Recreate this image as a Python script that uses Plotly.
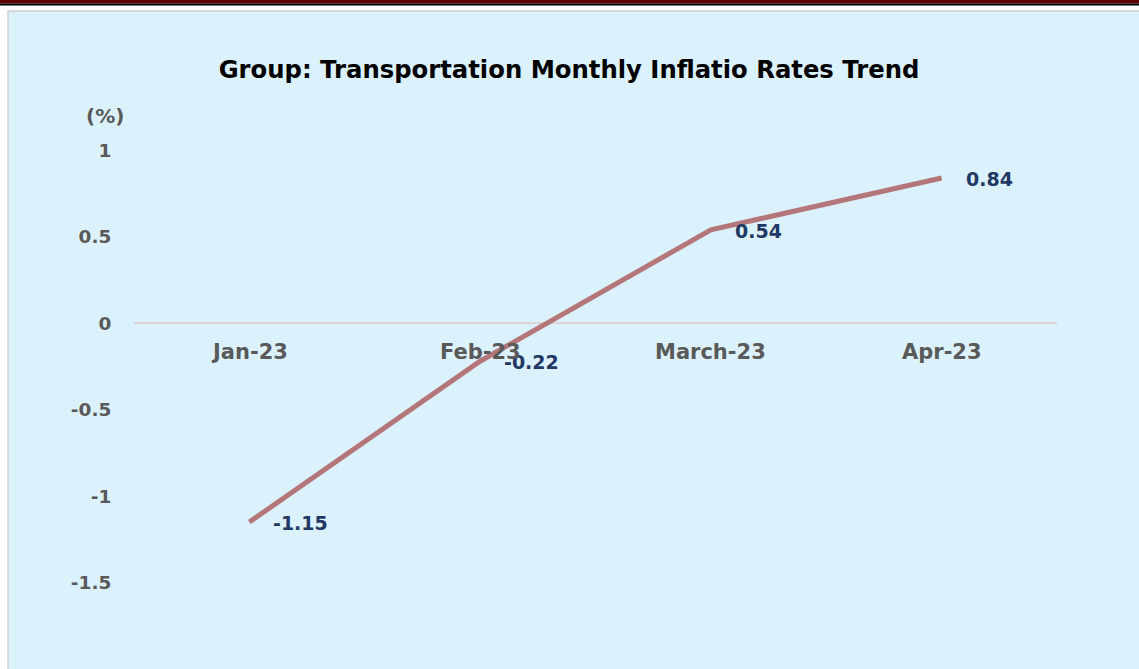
import plotly.graph_objects as go

months = ["Jan-23", "Feb-23", "March-23", "Apr-23"]
rates = [-1.15, -0.22, 0.54, 0.84]
rate_labels = ["-1.15", "-0.22", "0.54", "0.84"]
y_ticks = [1, 0.5, 0, -0.5, -1, -1.5]
y_tick_text = ["1", "0.5", "0", "-0.5", "-1", "-1.5"]

W, H = 1139, 669
L, R, T, B = 134, 82, 133, 0
pw, ph = W - L - R, H - T - B

def px(x):
    return (x - L) / pw

def py(y):
    return (H - B - y) / ph

FONT = "DejaVu Sans"
fig = go.Figure()
fig.add_trace(go.Scatter(
    x=months, y=rates, mode="lines",
    line=dict(color="#b5767a", width=5),
    hoverinfo="skip", showlegend=False,
))

annotations = []
for m, v, t in zip(months, rates, rate_labels):
    annotations.append(dict(x=m, y=v, xref="x", yref="y", text=f"<b>{t}</b>",
                            showarrow=False, xanchor="left", yanchor="middle",
                            xshift=22, yshift=-1,
                            font=dict(family=FONT, size=19, color="#1f3864")))
for m in months:
    annotations.append(dict(x=m, y=0, xref="x", yref="y", text=f"<b>{m}</b>",
                            showarrow=False, xanchor="center", yanchor="top",
                            yshift=-15,
                            font=dict(family=FONT, size=21, color="#595959")))
annotations.append(dict(x=px(105), y=py(116), xref="paper", yref="paper",
                        text="<b>(%)</b>", showarrow=False, xanchor="center",
                        yanchor="middle", font=dict(family=FONT, size=20, color="#595959")))

shapes = [
    dict(type="rect", xref="paper", yref="paper", x0=px(8), x1=px(1145), y0=py(11), y1=py(680),
         fillcolor="#dbf2fc", line=dict(color="#d0d0d0", width=1.5), layer="below"),
    dict(type="rect", xref="paper", yref="paper", x0=px(-5), x1=px(1145), y0=py(-2), y1=py(3.5),
         fillcolor="#5e0000", line=dict(width=0), layer="below"),
    dict(type="rect", xref="paper", yref="paper", x0=px(-5), x1=px(1145), y0=py(3.5), y1=py(5.5),
         fillcolor="#000000", line=dict(width=0), layer="below"),
]

fig.update_layout(
    width=W, height=H,
    margin=dict(l=L, r=R, t=T, b=B, pad=0),
    paper_bgcolor="#ffffff", plot_bgcolor="rgba(0,0,0,0)",
    title=dict(text="<b>Group: Transportation Monthly Inflatio Rates Trend</b>",
               xref="container", yref="container",
               x=569 / W, xanchor="center", y=1 - 69 / H, yanchor="middle",
               font=dict(family=FONT, size=24.3, color="#000000")),
    xaxis=dict(type="category", showticklabels=False, showgrid=False, zeroline=False,
               showline=False, ticks="", range=[-0.5, 3.5]),
    yaxis=dict(range=[-2, 1.1], tickvals=y_ticks, ticktext=y_tick_text,
               showgrid=False, zeroline=True, zerolinecolor="#dcd4d4", zerolinewidth=1.5,
               showline=False, ticks="outside", ticklen=18, tickcolor="rgba(0,0,0,0)",
               tickfont=dict(family=FONT, size=18.5, color="#595959", weight="bold")),
    annotations=annotations, shapes=shapes,
)

fig.write_html("out.html", config={"displayModeBar": False},
               post_script="document.body.style.margin='0';document.body.style.overflow='hidden';")
